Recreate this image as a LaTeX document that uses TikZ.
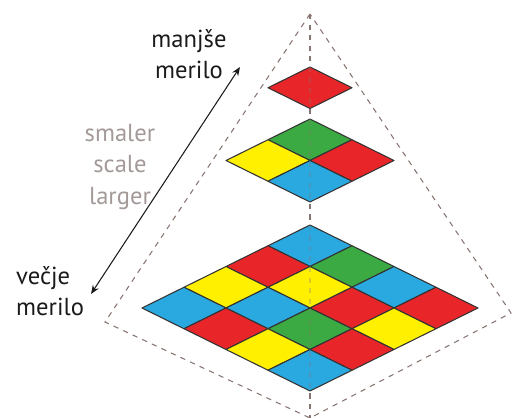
\documentclass[tikz,border=0pt]{standalone}
\usepackage{fontspec}
\setmainfont{PT Sans}
\usetikzlibrary{arrows.meta}
\definecolor{tilered}{HTML}{E8262A}
\definecolor{tilegreen}{HTML}{3BAA42}
\definecolor{tileyellow}{HTML}{FFF000}
\definecolor{tileblue}{HTML}{2AA8E0}
\definecolor{guideline}{HTML}{857470}
\definecolor{textmain}{HTML}{1A1A1A}
\definecolor{textdim}{HTML}{A39A98}

% one rhombus cell, given by its top vertex
\newcommand{\tilecell}[3]{%
  \filldraw[tile, fill=tile#3] ({#1},{#2}) -- ++(42,20.75) -- ++(-42,20.75) -- ++(-42,-20.75) -- cycle;}

\begin{document}
\begin{tikzpicture}[
    x=0.02cm, y=-0.02cm,
    tile/.style={draw=black!80, line width=0.6pt, line join=round},
    guide/.style={draw=guideline, dashed, line width=0.6pt},
    scalearrow/.style={{Stealth[length=5pt,width=4pt]}-{Stealth[length=5pt,width=4pt]}, line width=0.6pt, textmain},
    label/.style={text=textmain, font=\fontsize{14}{18}\selectfont},
    desc/.style={text=textdim, font=\fontsize{14}{18}\selectfont, align=center}
  ]
    \useasboundingbox (0,0) rectangle (512,418);

    % pyramid outline
    \coordinate (apex) at (310,14);
    \coordinate (leftc) at (105,322);
    \coordinate (rightc) at (511,313);
    \coordinate (base) at (310,418);
    \draw[guide] (apex) -- (leftc) -- (base) -- (rightc) -- cycle;
    \draw[guide] (apex) -- (base);

    % top level
    \tilecell{310}{67}{red}

    % middle level
    \foreach \row [count=\j from 0] in {{green,red},{yellow,blue}}
      \foreach \c [count=\i from 0] in \row
        \tilecell{310+42*(\i-\j)}{119+20.75*(\i+\j)}{\c};

    % bottom level
    \foreach \row [count=\j from 0] in {{blue,green,blue,red},{red,yellow,red,yellow},{yellow,blue,green,red},{blue,red,yellow,blue}}
      \foreach \c [count=\i from 0] in \row
        \tilecell{310+42*(\i-\j)}{225+20.75*(\i+\j)}{\c};

    \draw[guide, opacity=0.3] (apex) -- (base);

    % scale arrow and labels
    \coordinate (small) at (240,67);
    \coordinate (large) at (91,294);
    \draw[scalearrow] (large) -- (small);

    \node[label, align=center] (manjse) at (189,54) {manjše\\merilo};
    \node[label, align=left, anchor=west] (vecje) at (10,291) {večje\\merilo};
    \node[desc] (scale) at (120,167) {smaler\\scale\\larger};
\end{tikzpicture}
\end{document}
